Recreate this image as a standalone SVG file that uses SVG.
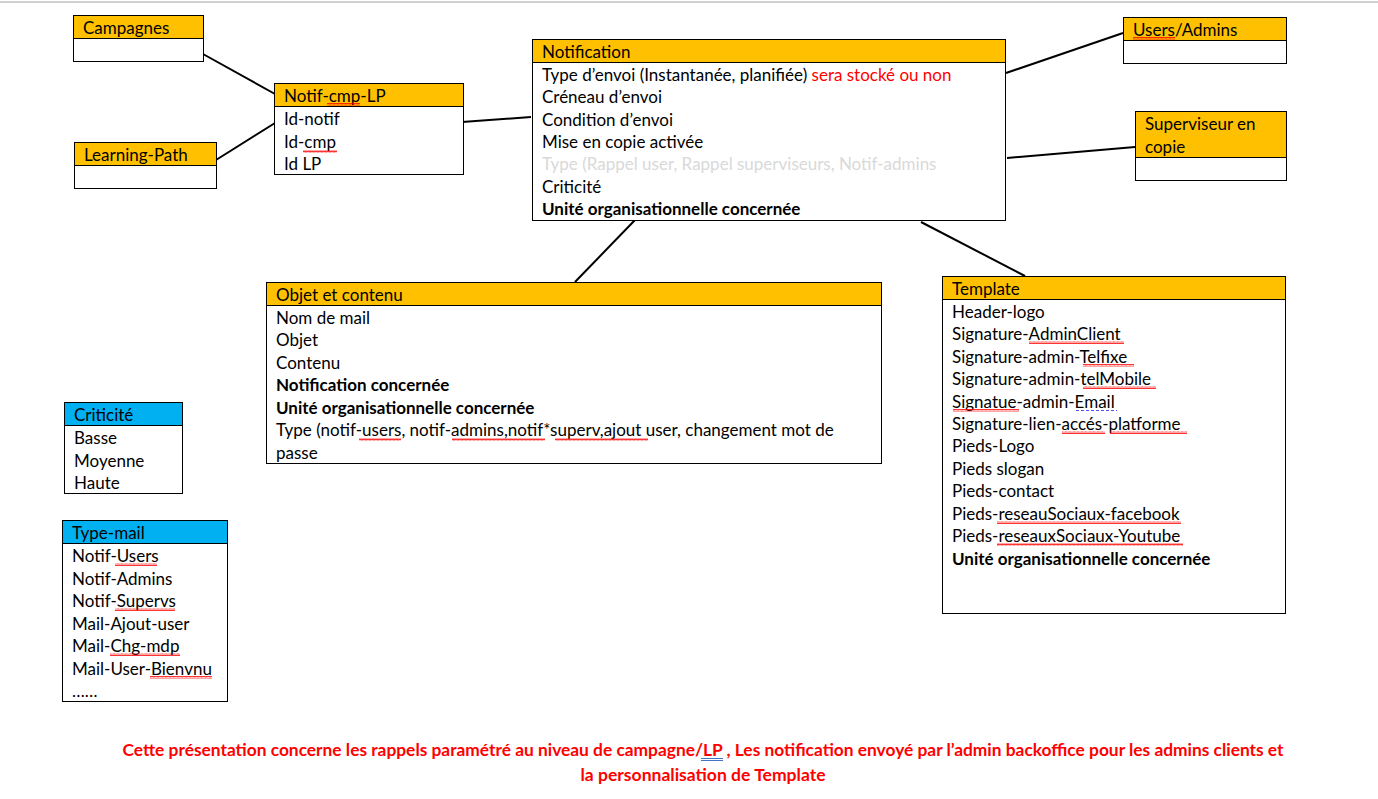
<svg xmlns="http://www.w3.org/2000/svg" width="1378" height="799" viewBox="0 0 1378 799">
<style>
text{font-family:Lato,"Liberation Sans",sans-serif;font-size:17px;fill:#000}
.b{font-weight:bold}
.hd{fill:#FFC000;stroke:#000;stroke-width:1}
.hb{fill:#00B0F0;stroke:#000;stroke-width:1}
.bd{fill:#fff;stroke:#000;stroke-width:1}
.red{fill:#FF0000}
.gray{fill:#D9D9D9}
.cn line{stroke:#000;stroke-width:2}
.sq{fill:url(#wave)}
.note{font-weight:bold;fill:#FF0000;font-size:17px}
</style>
<defs>
<pattern id="wave" width="4" height="3" patternUnits="userSpaceOnUse">
<path d="M0,2.5 L1,0.5 L2,2.5 L3,0.5 L4,2.5" fill="none" stroke="#FF0000" stroke-width="0.8"/>
</pattern>
</defs>
<rect width="1378" height="799" fill="#fff"/>
<line x1="0" y1="2" x2="1378" y2="2" stroke="#D0D0D0" stroke-width="2"/>

<g class="cn">
<line x1="203" y1="54" x2="275" y2="94"/>
<line x1="216" y1="160" x2="275" y2="123"/>
<line x1="462" y1="122" x2="531" y2="117"/>
<line x1="1006" y1="73" x2="1123" y2="33"/>
<line x1="1007" y1="158" x2="1135" y2="147"/>
<line x1="635" y1="220" x2="575" y2="282"/>
<line x1="921" y1="222" x2="1025" y2="276"/>
</g>

<g id="campagnes">
<rect class="hd" x="73.5" y="15.5" width="130" height="23"/>
<rect class="bd" x="73.5" y="38.5" width="130" height="23"/>
<text x="83" y="33.5">Campagnes</text>
</g>

<g id="learning-path">
<rect class="hd" x="74.5" y="142.5" width="142" height="23"/>
<rect class="bd" x="74.5" y="165.5" width="142" height="23"/>
<text x="84" y="160.5">Learning-Path</text>
</g>

<g id="notif-cmp-lp">
<rect class="hd" x="274.5" y="83.5" width="189" height="23"/>
<rect class="bd" x="274.5" y="106.5" width="189" height="68"/>
<text x="284" y="101.5">Notif-cmp-LP</text>
<rect class="sq" x="327" y="103" width="33" height="3"/>
<text x="284" y="124.5">Id-notif</text>
<text x="284" y="147.5">Id-cmp</text>
<rect class="sq" x="303" y="150" width="34" height="3"/>
<text x="284" y="169.5">Id LP</text>
</g>

<g id="notification">
<rect class="hd" x="532.5" y="39.5" width="473" height="23"/>
<rect class="bd" x="532.5" y="62.5" width="473" height="158"/>
<text x="542" y="57.5">Notification</text>
<text x="542" y="80.5">Type d’envoi (Instantanée, planifiée) <tspan class="red">sera stocké ou non</tspan></text>
<text x="542" y="102.5">Créneau d’envoi</text>
<text x="542" y="125.5">Condition d’envoi</text>
<text x="542" y="147.5">Mise en copie activée</text>
<text x="542" y="169.5" class="gray">Type (Rappel user, Rappel superviseurs, Notif-admins</text>
<text x="542" y="192.5">Criticité</text>
<text x="542" y="214.5" class="b">Unité organisationnelle concernée</text>
</g>

<g id="users-admins">
<rect class="hd" x="1123.5" y="17.5" width="163" height="23"/>
<rect class="bd" x="1123.5" y="40.5" width="163" height="23"/>
<text x="1133" y="35.5">Users/Admins</text>
<rect class="sq" x="1133" y="37" width="42" height="3"/>
</g>

<g id="superviseur">
<rect class="hd" x="1135.5" y="111.5" width="151" height="46"/>
<rect class="bd" x="1135.5" y="157.5" width="151" height="23"/>
<text x="1145" y="129.5">Superviseur en</text>
<text x="1145" y="152.5">copie</text>
</g>

<g id="objet-contenu">
<rect class="hd" x="266.5" y="282.5" width="615" height="23"/>
<rect class="bd" x="266.5" y="305.5" width="615" height="158"/>
<text x="276" y="300.5">Objet et contenu</text>
<text x="276" y="323.5">Nom de mail</text>
<text x="276" y="345.5">Objet</text>
<text x="276" y="368.5">Contenu</text>
<text x="276" y="390.5" class="b">Notification concernée</text>
<text x="276" y="413.5" class="b">Unité organisationnelle concernée</text>
<text x="276" y="435.5">Type (notif-users, notif-admins,notif*superv,ajout user, changement mot de</text>
<rect class="sq" x="359" y="438" width="42" height="3"/>
<rect class="sq" x="452" y="438" width="93" height="3"/>
<rect class="sq" x="555" y="438" width="93" height="3"/>
<text x="276" y="458.5">passe</text>
</g>

<g id="template">
<rect class="hd" x="942.5" y="276.5" width="343" height="23"/>
<rect class="bd" x="942.5" y="299.5" width="343" height="314"/>
<text x="952" y="294.5">Template</text>
<text x="952" y="317.5">Header-logo</text>
<text x="952" y="339.5">Signature-AdminClient</text>
<rect class="sq" x="1029" y="341" width="95" height="3"/>
<text x="952" y="362.5">Signature-admin-Telfixe</text>
<rect class="sq" x="1083" y="364" width="51" height="3"/>
<text x="952" y="384.5">Signature-admin-telMobile</text>
<rect class="sq" x="1083" y="386" width="73" height="3"/>
<text x="952" y="407.5">Signatue-admin-Email</text>
<rect class="sq" x="953" y="409" width="66" height="3"/>
<line x1="1076" y1="410.5" x2="1117" y2="410.5" stroke="#5050FF" stroke-width="1.2" stroke-dasharray="3,2"/>
<text x="952" y="429.5">Signature-lien-accés-platforme</text>
<rect class="sq" x="1062" y="431" width="43" height="3"/>
<rect class="sq" x="1110" y="431" width="77" height="3"/>
<text x="952" y="451.5">Pieds-Logo</text>
<text x="952" y="474.5">Pieds slogan</text>
<text x="952" y="496.5">Pieds-contact</text>
<text x="952" y="519.5">Pieds-reseauSociaux-facebook</text>
<rect class="sq" x="997" y="521" width="184" height="3"/>
<text x="952" y="541.5">Pieds-reseauxSociaux-Youtube</text>
<rect class="sq" x="997" y="543" width="186" height="3"/>
<text x="952" y="564.5" class="b">Unité organisationnelle concernée</text>
</g>

<g id="criticite">
<rect class="hb" x="64.5" y="402.5" width="118" height="23"/>
<rect class="bd" x="64.5" y="425.5" width="118" height="68"/>
<text x="74" y="420.5">Criticité</text>
<text x="74" y="443.5">Basse</text>
<text x="74" y="466.5">Moyenne</text>
<text x="74" y="488.5">Haute</text>
</g>

<g id="type-mail">
<rect class="hb" x="62.5" y="520.5" width="165" height="23"/>
<rect class="bd" x="62.5" y="543.5" width="165" height="158"/>
<text x="72" y="538.5">Type-mail</text>
<text x="72" y="561.5">Notif-Users</text>
<rect class="sq" x="115" y="563" width="42" height="3"/>
<text x="72" y="584.5">Notif-Admins</text>
<text x="72" y="606.5">Notif-Supervs</text>
<rect class="sq" x="115" y="608" width="60" height="3"/>
<text x="72" y="629.5">Mail-Ajout-user</text>
<text x="72" y="651.5">Mail-Chg-mdp</text>
<rect class="sq" x="110" y="653" width="70" height="3"/>
<text x="72" y="674.5">Mail-User-Bienvnu</text>
<rect class="sq" x="150" y="676" width="62" height="3"/>
<text x="72" y="696.5">……</text>
</g>

<g id="note">
<text class="note" x="703" y="755.5" text-anchor="middle" textLength="1161" lengthAdjust="spacingAndGlyphs">Cette présentation concerne les rappels paramétré au niveau de campagne/LP , Les notification envoyé par l’admin backoffice  pour les admins clients et</text>
<text class="note" x="703" y="780.5" text-anchor="middle" textLength="245" lengthAdjust="spacingAndGlyphs">la personnalisation de Template</text>
<line x1="701" y1="758.5" x2="723" y2="758.5" stroke="#4472C4" stroke-width="1"/>
<line x1="701" y1="760.5" x2="723" y2="760.5" stroke="#4472C4" stroke-width="1"/>
</g>
</svg>
